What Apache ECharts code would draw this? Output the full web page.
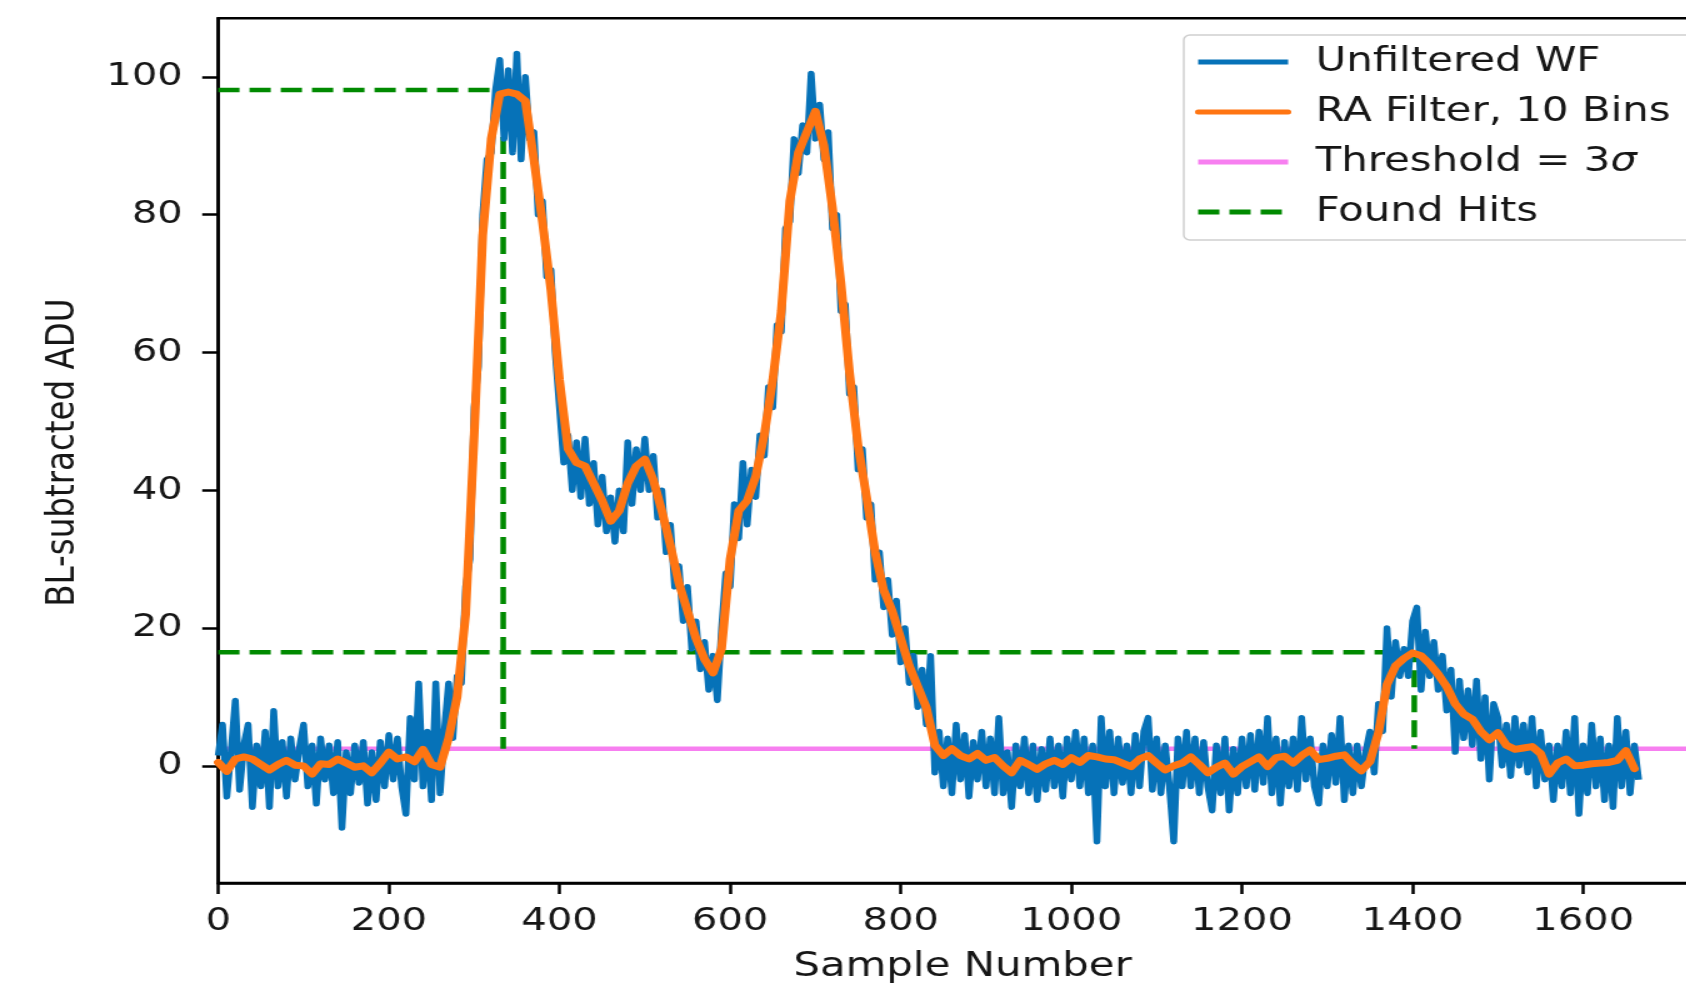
<!DOCTYPE html>
<html>
<head>
<meta charset="utf-8">
<title>Hit finding on a baseline-subtracted waveform</title>
<script src="https://cdn.jsdelivr.net/npm/echarts@6/dist/echarts.min.js"></script>
<style>
  html, body { margin: 0; padding: 0; width: 1686px; height: 985px; overflow: hidden; background: #ffffff; }
  /* the figure is drawn on a narrower canvas and stretched horizontally */
  #chart { width: 1400px; height: 985px; transform: scaleX(1.25); transform-origin: 0 0; }
</style>
</head>
<body>
<div id="chart"></div>
<script>
// Unfiltered waveform, one value every 5 samples (ADU, baseline subtracted)
const rawStep = 5;
const unfilteredWF = [
  1.5, 6, -4.5, 2, 9.5, -3.5, 3, 6, -6, 3,
  -3, 5, -6, 8, -3, 3.5, -4.5, 4, -2, 2.5,
  6, -3, 3, -5.5, 4, -2, 3, -4, 3.5, -9,
  2, -4, 3, -2.5, 3.5, -5.5, 2, -5, 3.5, -3,
  4.5, -2, 4, -3, -7, 7, -2, 12, -3, 5,
  -5, 12, -4, 5, 12, 4, 13, 12, 26, 30,
  52, 58, 80, 88, 89, 98, 102.5, 91, 101, 89,
  103.4, 88, 100, 91, 92, 80, 82, 71, 72, 60,
  52, 44, 48, 40, 47, 39, 47.5, 38, 44, 35,
  42, 34, 39, 32.5, 40, 34, 47, 38, 46, 40,
  47.5, 40, 45, 36, 40, 31, 35, 26, 29, 21,
  26, 17, 21, 14, 18, 11, 16, 9.5, 20, 28,
  26, 38, 33, 44, 35, 43, 39, 48, 45, 55,
  52, 64, 63, 78, 79, 91, 86, 93, 89, 100.5,
  91, 96, 88, 92, 78, 80, 66, 67, 54, 55,
  43, 46, 36, 38, 27, 31, 23, 27, 19, 24,
  15, 20, 12, 16, 8.5, 14, 6, 16, -1, 5,
  -3, 4, -4, 6, -2, 4.5, -4.5, 3.5, -2, 5,
  -3, 4, -4, 7, -4, 2, -6, 3, -3, 4,
  -4, 3, -5, 2.5, -3.5, 4, -3, 3, -4.5, 4,
  -2, 5, -3, 4, -4, 3, -11, 7, -3, 5,
  -4, 4, -2.5, 3, -4, 4.5, -3, 5, 7, -3.5,
  4, -4, 3, -3, -11, 4, -3, 5, -3, 4,
  -4, 3.5, -3, -6.5, 3, -4, 4, -6.5, 2.5, -4,
  4, -3, 4.5, -3.5, 5, -2.5, 7, -4, 4, -5.5,
  3.5, -3, 4, -3.5, 7, -2, 4, -3, -5.5, 3,
  -3, 4.5, -2.5, 7, -5, 3, -4, 3, -3, 2,
  5, -1, 9, 5, 20, 10, 18, 13, 17, 13,
  21, 23, 11, 19.5, 13, 18, 11, 16, 8, 14,
  2, 12.4, 4, 11, 3, 12.4, 1, 10, -2, 9,
  7, 0, 6, -1.5, 7, 0, 6, -1, 7, -3,
  5, -2, 3, -5, 3, -3, 5, -4, 7, -7,
  3, -4, 6, -3, 4, -5, 3, -6, 7, -3,
  5, -4, 3, -2
];

// Running-average filtered waveform (10 bins), one value every 10 samples
const filterStep = 10;
const raFiltered = [
  0.5, -0.8, 1, 1.3, 1, 0.2, -0.6, 0.2, 0.8, 0.1,
  0, -1.2, 0.3, 0.2, 1, 0.4, -0.2, 0, -1, 0.4,
  2, 1, 1.3, 0.6, 2.4, 0.2, -0.2, 4, 10, 22,
  48, 77, 91, 97.5, 97.8, 97.5, 96.5, 88, 79, 69,
  56, 46, 44, 43.5, 41, 38.5, 35.5, 37, 41, 43.5,
  44.5, 41.5, 37, 32, 26.5, 22.5, 18.5, 15.5, 13.5, 17,
  30, 37, 38.5, 42, 48, 56, 66, 82, 89, 92,
  95, 90, 81, 70, 57, 46.5, 39, 31, 25.5, 22.5,
  18.5, 14.5, 11.5, 8.5, 3, 1.5, 2.5, 1.5, 1, 1.8,
  0.8, 1.2, 0, -1, 0.8, 0.2, -0.5, 0.3, 0.8, 0.2,
  1.2, 0.5, 1.5, 1.3, 1, 0.9, 0.4, -0.1, 1, 1.5,
  0.4, -0.6, 0, 0.4, 1.3, 0.2, -1, -0.2, 0.4, -1.2,
  -0.1, 0.6, 1.3, -0.1, 1.2, 1.4, 0.4, 1.5, 2.3, 0.9,
  1.1, 1.4, 1.6, 0.3, -0.7, 0.6, 4.8, 11.8, 14.5, 15.6,
  16.4, 16, 14.8, 13.3, 11.5, 9, 7.5, 6.8, 5, 3.8,
  4.8, 3, 2.4, 2.6, 2.8, 1.8, -1.2, 0.4, 1, 0,
  0.1, 0.3, 0.4, 0.5, 0.8, 2.2, -0.4
];

// Hit finder output
const thresholdLevel = 2.5;
const hitSamples = [334, 1402];
const hitAmplitudes = [98.1, 16.5];

// Axes
const xRange = [0, 1745];
const yRange = [-17, 108.5];
const xTicks = [0, 200, 400, 600, 800, 1000, 1200, 1400, 1600];
const yTicks = [0, 20, 40, 60, 80, 100];

const seriesNames = ['Unfiltered WF', 'RA Filter, 10 Bins', 'Threshold = 3σ', 'Found Hits'];
const seriesColors = ['#0672b8', '#ff7512', '#f77ff0', '#008a00'];

const FONT = 'DejaVu Sans';
const INK = '#161616';

const rawPoints = unfilteredWF.map((v, i) => [i * rawStep, v]);
const filteredPoints = raFiltered.map((v, i) => [i * filterStep, v]);
const thresholdPoints = [[xRange[0], thresholdLevel], [xRange[1], thresholdLevel]];

// each hit: dashed line from the y axis to the hit, then down to the threshold
const hitSeries = hitSamples.map((s, i) => ({
  name: seriesNames[3],
  type: 'line',
  data: [[0, hitAmplitudes[i]], [s, hitAmplitudes[i]], [s, thresholdLevel]],
  symbol: 'none',
  silent: true,
  z: 2,
  itemStyle: { color: seriesColors[3] },
  lineStyle: { color: seriesColors[3], width: 4.5, type: [17, 8], cap: 'butt' }
}));

const plainNumber = v => String(v);

const chart = echarts.init(document.getElementById('chart'), null, { renderer: 'canvas' });

chart.setOption({
  animation: false,
  backgroundColor: '#ffffff',
  grid: {
    left: 174.6, right: 34.5, top: 18.3, bottom: 102,
    containLabel: false, outerBoundsMode: 'none',
    show: true, borderColor: '#000', borderWidth: 2.5, backgroundColor: 'transparent'
  },
  legend: {
    orient: 'vertical',
    left: 947,
    top: 35,
    padding: [9, 40, 10, 9],
    itemWidth: 72,
    itemHeight: 36,
    itemGap: 14,
    selectedMode: false,
    backgroundColor: 'rgba(255,255,255,0.85)',
    borderColor: '#cfcfcf',
    borderWidth: 1.5,
    borderRadius: 5,
    data: seriesNames,
    // line-only legend keys: hide the marker drawn on top of the line
    itemStyle: { opacity: 0, borderWidth: 0 },
    lineStyle: { width: 5 },
    formatter: name => '{gap|}' + (name === seriesNames[2] ? 'Threshold = 3{it|σ}' : name),
    textStyle: {
      fontFamily: FONT, fontSize: 33.5, color: INK, lineHeight: 36,
      rich: {
        gap: { width: 17 },
        it: { fontFamily: FONT, fontSize: 33.5, fontStyle: 'italic', color: INK, lineHeight: 36 }
      }
    }
  },
  xAxis: {
    type: 'value',
    min: xRange[0], max: xRange[1],
    name: 'Sample Number',
    nameLocation: 'middle',
    nameGap: 67,
    nameTextStyle: { fontFamily: FONT, fontSize: 33.5, color: INK },
    axisLine: { onZero: false, lineStyle: { color: '#000', width: 2.5 } },
    axisTick: { customValues: xTicks, length: 11, lineStyle: { color: '#000', width: 2.5 } },
    axisLabel: { customValues: xTicks, formatter: plainNumber, margin: 23, fontFamily: FONT, fontSize: 32, color: INK },
    splitLine: { show: false }
  },
  yAxis: {
    type: 'value',
    min: yRange[0], max: yRange[1],
    name: 'BL-subtracted ADU',
    nameLocation: 'middle',
    nameGap: 108,
    nameTextStyle: { fontFamily: FONT, fontSize: 32.5, color: INK, padding: [0, 4, 0, 0] },
    axisLine: { onZero: false, lineStyle: { color: '#000', width: 2.5 } },
    axisTick: { customValues: yTicks, length: 12.8, lineStyle: { color: '#000', width: 2.5 } },
    axisLabel: { customValues: yTicks, formatter: plainNumber, margin: 28.4, fontFamily: FONT, fontSize: 32, color: INK },
    splitLine: { show: false }
  },
  series: [
    {
      name: seriesNames[2],
      type: 'line',
      data: thresholdPoints,
      symbol: 'none',
      silent: true,
      z: 1,
      itemStyle: { color: seriesColors[2] },
      lineStyle: { color: seriesColors[2], width: 4.5 }
    },
    ...hitSeries,
    {
      name: seriesNames[0],
      type: 'line',
      data: rawPoints,
      symbol: 'none',
      silent: true,
      z: 3,
      itemStyle: { color: seriesColors[0] },
      lineStyle: { color: seriesColors[0], width: 5.5, join: 'round' }
    },
    {
      name: seriesNames[1],
      type: 'line',
      data: filteredPoints,
      symbol: 'none',
      silent: true,
      z: 4,
      itemStyle: { color: seriesColors[1] },
      lineStyle: { color: seriesColors[1], width: 7, join: 'round', cap: 'round' }
    }
  ]
});
</script>
</body>
</html>
